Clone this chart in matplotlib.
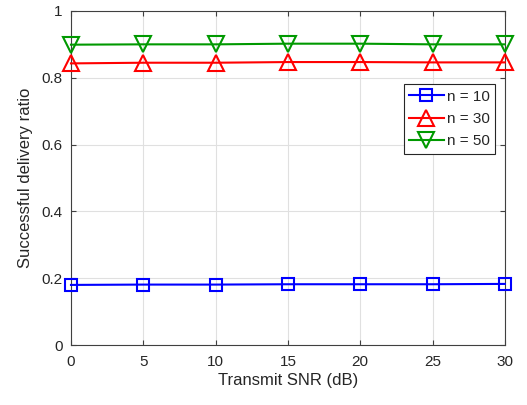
import matplotlib
matplotlib.use('Agg')
import matplotlib.pyplot as plt

plt.rcParams['font.family'] = ['Liberation Sans', 'DejaVu Sans']

snr = [0, 5, 10, 15, 20, 25, 30]
n10 = [0.180, 0.181, 0.181, 0.182, 0.182, 0.182, 0.183]
n30 = [0.843, 0.845, 0.845, 0.847, 0.847, 0.846, 0.846]
n50 = [0.899, 0.900, 0.900, 0.902, 0.902, 0.900, 0.900]

fig = plt.figure(figsize=(5.27, 4.05), dpi=100)
ax = fig.add_axes([0.1347, 0.148, 0.8233, 0.825])

ax.plot(snr, n10, color='blue', marker='s', markersize=9, markerfacecolor='none',
        markeredgewidth=1.5, linewidth=1.5, label='n = 10', clip_on=False, zorder=3)
ax.plot(snr, n30, color='red', marker='^', markersize=11, markerfacecolor='none',
        markeredgewidth=1.5, linewidth=1.5, label='n = 30', clip_on=False, zorder=3)
ax.plot(snr, n50, color=(0, 0.6, 0), marker='v', markersize=11, markerfacecolor='none',
        markeredgewidth=1.5, linewidth=1.5, label='n = 50', clip_on=False, zorder=3)

ax.set_xlim(0, 30)
ax.set_ylim(0, 1)
ax.set_xticks(snr)
ax.set_yticks([0, 0.2, 0.4, 0.6, 0.8, 1])
ax.set_yticklabels(['0', '0.2', '0.4', '0.6', '0.8', '1'])
ax.grid(True, color='#e0e0e0', linewidth=0.8)
ax.set_axisbelow(True)
ax.tick_params(axis='x', pad=7)
ax.tick_params(axis='y', pad=6)
ax.tick_params(direction='in', labelsize=11, top=True, right=True, color='#404040',
               labelcolor='#262626')
for s in ax.spines.values():
    s.set_color('#404040')
    s.set_linewidth(0.8)
ax.set_xlabel('Transmit SNR (dB)', fontsize=12, color='#262626', labelpad=3)
ax.set_ylabel('Successful delivery ratio', fontsize=12, color='#262626', labelpad=6)

leg = ax.legend(loc='upper right', bbox_to_anchor=(0.985, 0.79), fontsize=11,
                fancybox=False, framealpha=1, edgecolor='#262626',
                borderpad=0.35, labelspacing=0.55, handlelength=2.3, handletextpad=0.2,
                borderaxespad=0.2)
leg.get_frame().set_linewidth(0.8)
for t in leg.get_texts():
    t.set_color('#262626')

fig.savefig('out.png', dpi=100)
